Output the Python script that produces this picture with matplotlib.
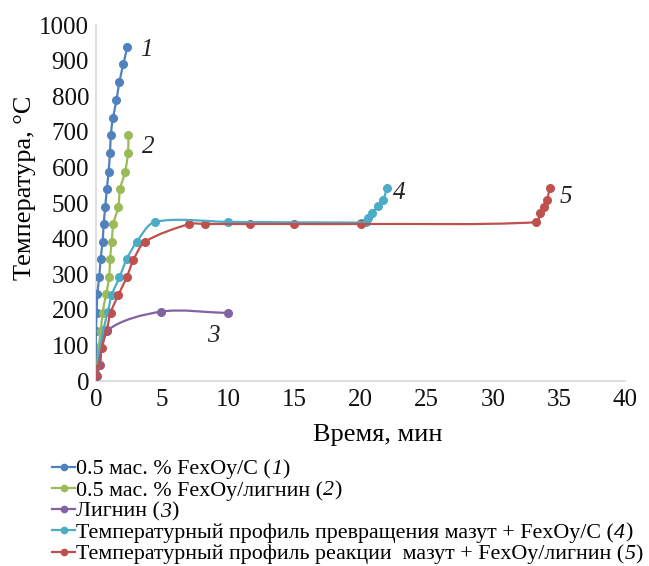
import numpy as np
import matplotlib
matplotlib.use("Agg")
import matplotlib.pyplot as plt
from matplotlib.path import Path
from matplotlib.patches import PathPatch
from matplotlib.lines import Line2D

plt.rcParams['font.family'] = ['Liberation Serif', 'DejaVu Serif']

# ---- data ----
t1 = [0.05, 0.0, 0.0, 0.05, 0.1, 0.25, 0.35, 0.5, 0.58, 0.7, 0.82, 0.95, 1.06, 1.12, 1.28, 1.55, 1.77, 2.07, 2.37]
T1 = [45, 93, 141, 192, 244, 293, 343, 391, 441, 490, 539, 588, 640, 691, 738, 789, 841, 890, 939]

t2 = [0.1, 0.2, 0.36, 0.5, 0.76, 1.0, 1.06, 1.19, 1.31, 1.69, 1.82, 2.2, 2.42, 2.45]
T2 = [45, 95, 141, 192, 244, 293, 342, 391, 441, 490, 539, 588, 640, 691]

t3 = [0.05, 0.3, 0.8, 4.95, 9.95]
T3 = [15, 45, 140, 195, 191]

t4 = [0.1, 0.3, 0.55, 0.9, 1.19, 1.77, 2.32, 3.08, 4.47, 10.0, 20.0, 20.4, 20.6, 20.9, 21.3, 21.7, 22.0]
T4 = [45, 93, 143, 195, 242, 291, 342, 391, 447, 447, 445, 448, 457, 471, 492, 508, 541]

t5 = [0.0, 0.2, 0.43, 0.81, 1.11, 1.69, 2.32, 2.83, 3.71, 7.05, 8.26, 11.67, 15.0, 20.0, 33.3, 33.6, 33.9, 34.1, 34.3]
T5 = [17, 45, 92, 143, 192, 242, 291, 340, 391, 441, 441, 441, 441, 441, 446, 471, 490, 508, 541]

labels = ["0.5 мас. % FexOy/C (", "0.5 мас. % FexOy/лигнин (", "Лигнин (",
          "Температурный профиль превращения мазут + FexOy/C (",
          "Температурный профиль реакции  мазут + FexOy/лигнин ("]
nums = ["1", "2", "3", "4", "5"]
colors = ["#4F81BD", "#9BBB59", "#8064A2", "#4BACC6", "#C0504D"]
series = [(t1, T1), (t2, T2), (t3, T3), (t4, T4), (t5, T5)]
num_pos = [(3.78, 930), (3.93, 657), (8.85, 126), (22.9, 528), (35.55, 517)]

xticks = list(range(0, 41, 5))
yticks = list(range(0, 1001, 100))


def smooth_path(x, y, k=0.3):
    pts = np.column_stack([x, y]).astype(float)
    n = len(pts)
    tang = []
    for i in range(n):
        a = pts[max(i - 1, 0)]
        b = pts[min(i + 1, n - 1)]
        d = b - a
        nrm = np.hypot(*d)
        tang.append(d / nrm if nrm > 0 else np.zeros(2))
    verts = [tuple(pts[0])]
    codes = [Path.MOVETO]
    for i in range(n - 1):
        p1, p2 = pts[i], pts[i + 1]
        L = np.hypot(*(p2 - p1))
        c1 = p1 + tang[i] * L * k
        c2 = p2 - tang[i + 1] * L * k
        verts += [tuple(c1), tuple(c2), tuple(p2)]
        codes += [Path.CURVE4] * 3
    return Path(verts, codes)


W, H = 649, 566
fig = plt.figure(figsize=(W / 100, H / 100), dpi=100)
ax = fig.add_axes([96/W, 1 - 381/H, (625 - 96)/W, (381 - 25)/H])

for (tx, ty), c in zip(series, colors):
    ax.plot(tx, ty, linestyle='none', marker='o', markersize=5.5, color=c, zorder=3)

ax.set_xlim(0, 40)
ax.set_ylim(0, 1000)
ax.set_xticks(xticks)
ax.set_yticks(yticks)
ax.tick_params(axis='both', length=0, labelsize=18, colors='#111111')
ax.tick_params(axis='x', pad=6)
ax.tick_params(axis='y', pad=5)
for s in ['top', 'right']:
    ax.spines[s].set_visible(False)
for s in ['left', 'bottom']:
    ax.spines[s].set_color('#d9d9d9')
    ax.spines[s].set_linewidth(1.2)

for (px, py), n in zip(num_pos, nums):
    ax.text(px, py, n, fontsize=18, style='italic', ha='center', va='center', color='#222222')

fig.text(378/W, 1 - 435/H, "Время, мин", fontsize=19, ha='center', va='center')
fig.text(25/W, 1 - 188/H, "Температура, °C", fontsize=19, ha='center', va='center', rotation=90)

handles = [Line2D([0], [0], color=c, marker='o', markersize=4.5, lw=1.6) for c in colors]
LFS = 15.8
leg = fig.legend(handles, labels, loc='upper left', bbox_to_anchor=(52/W, 1 - 459/H),
                 frameon=False, fontsize=LFS, handlelength=1.05, handletextpad=0.05,
                 labelspacing=0.04, borderaxespad=0, borderpad=0)

# smoothed lines drawn in pixel space so the curvature is isotropic
fig.canvas.draw()
renderer = fig.canvas.get_renderer()
for (tx, ty), c in zip(series, colors):
    disp = ax.transData.transform(np.column_stack([tx, ty]))
    p = smooth_path(disp[:, 0], disp[:, 1])
    patch = PathPatch(p, facecolor='none', edgecolor=c, lw=1.6, transform=None, zorder=2)
    patch.set_clip_path(ax.patch)
    fig.add_artist(patch)

# italic series numbers after each legend entry, then closing bracket
for t, n in zip(leg.get_texts(), nums):
    bb = t.get_window_extent(renderer)
    yc = (bb.y0 + bb.y1) / 2 / H
    tn = fig.text(bb.x1 / W, yc, n, fontsize=LFS, style='italic', ha='left', va='center')
    bb2 = tn.get_window_extent(renderer)
    fig.text(bb2.x1 / W, yc, ")", fontsize=LFS, ha='left', va='center')

fig.savefig("out.png", dpi=100)
